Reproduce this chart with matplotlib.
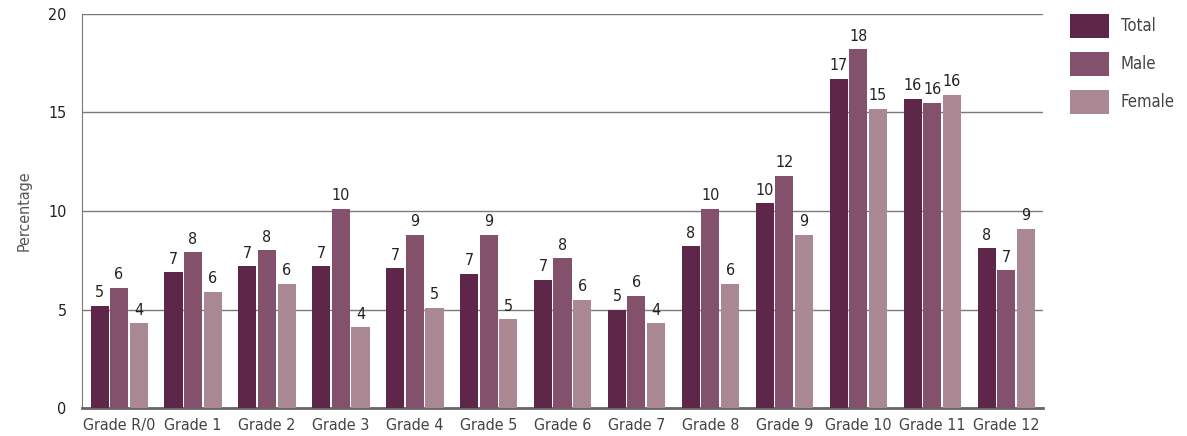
import matplotlib.pyplot as plt
import numpy as np

plt.rcParams['font.family'] = ['DejaVu Sans']
plt.rcParams['font.stretch'] = 'condensed'

grades = ['Grade R/0', 'Grade 1', 'Grade 2', 'Grade 3', 'Grade 4', 'Grade 5', 'Grade 6',
          'Grade 7', 'Grade 8', 'Grade 9', 'Grade 10', 'Grade 11', 'Grade 12']
total = [5.2, 6.9, 7.2, 7.2, 7.1, 6.8, 6.5, 5.0, 8.2, 10.4, 16.7, 15.7, 8.1]
male = [6.1, 7.9, 8.0, 10.1, 8.8, 8.8, 7.6, 5.7, 10.1, 11.8, 18.2, 15.5, 7.0]
female = [4.3, 5.9, 6.3, 4.1, 5.1, 4.5, 5.5, 4.3, 6.3, 8.8, 15.2, 15.9, 9.1]
total_lbl = ['5', '7', '7', '7', '7', '7', '7', '5', '8', '10', '17', '16', '8']
male_lbl = ['6', '8', '8', '10', '9', '9', '8', '6', '10', '12', '18', '16', '7']
female_lbl = ['4', '6', '6', '4', '5', '5', '6', '4', '6', '9', '15', '16', '9']

colors = ['#5e2749', '#83516b', '#a98893']
names = ['Total', 'Male', 'Female']

fig = plt.figure(figsize=(11.87, 4.36), dpi=100)
ax = fig.add_axes([82/1187, 28/436, 961/1187, 394/436])

x = np.arange(len(grades))
w = 0.245
offs = [-0.262, 0, 0.268]
series = [total, male, female]
labels = [total_lbl, male_lbl, female_lbl]
for vals, lbls, off, c, nm in zip(series, labels, offs, colors, names):
    bars = ax.bar(x + off, vals, width=w, color=c, label=nm, zorder=3)
    ax.bar_label(bars, labels=lbls, padding=4, fontsize=11.5, color='#222222')

ax.set_xlim(-0.5, len(grades) - 0.5)
ax.set_ylim(0, 20)
ax.set_yticks([0, 5, 10, 15, 20])
ax.yaxis.grid(True, color='#7a7a7a', linewidth=1, zorder=0)
ax.set_axisbelow(True)
ax.set_xticks(x)
ax.set_xticklabels(grades, fontsize=11.5, color='#444444')
ax.tick_params(axis='x', length=0, pad=7)
ax.tick_params(axis='y', length=0, pad=11, labelsize=11.5, labelcolor='#222222')
for s in ['top', 'right']:
    ax.spines[s].set_visible(False)
ax.spines['left'].set_color('#7a7a7a')
ax.spines['bottom'].set_color('#666666')
ax.spines['bottom'].set_linewidth(2)
ax.set_ylabel('Percentage', fontsize=11.5, color='#555555', labelpad=12)

fig.legend(loc='upper left', bbox_to_anchor=(1055/1187, 1 + 1/436), frameon=False,
           fontsize=12, handlelength=2.34, handleheight=1.83, labelspacing=0.84,
           handletextpad=0.72, labelcolor='#444444')

fig.savefig('out.png', dpi=100)
